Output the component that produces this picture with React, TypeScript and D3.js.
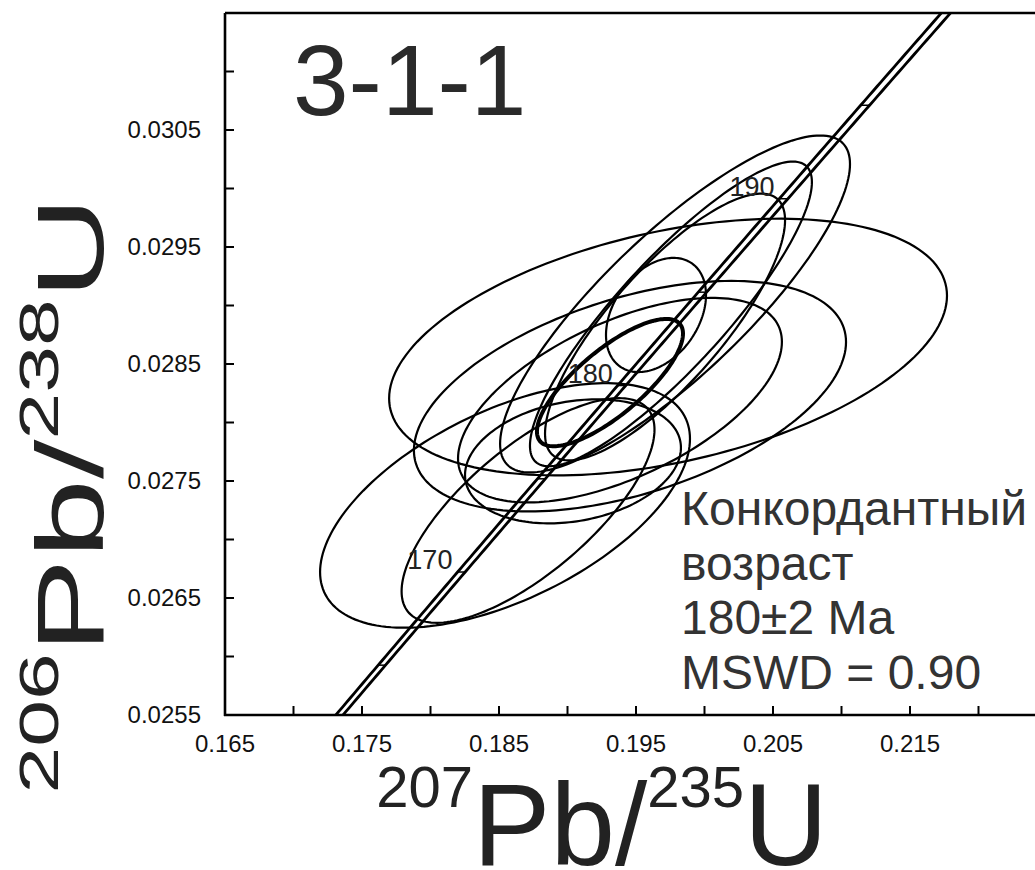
import React from "react";
import * as d3 from "d3";

const WIDTH = 1035;
const HEIGHT = 870;

// U–Pb analyses: 207Pb/235U, its 2σ error, 206Pb/238U, its 2σ error, error correlation
const ratio75 = [0.19734, 0.19456, 0.19383, 0.19785, 0.19755, 0.19712, 0.19646, 0.18544, 0.18712, 0.1904];
const err75 = [0.02036, 0.01577, 0.01182, 0.01277, 0.01029, 0.00876, 0.00365, 0.0135, 0.00923, 0.00788];
const ratio68 = [0.028645, 0.028225, 0.028191, 0.029013, 0.028928, 0.028816, 0.028919, 0.027291, 0.027248, 0.027668];
const err68 = [0.001097, 0.000985, 0.000874, 0.00144, 0.001302, 0.00114, 0.000488, 0.001045, 0.00096, 0.00053];
const rho = [0.4, 0.47, 0.57, 0.83, 0.865, 0.8, 0.35, 0.545, 0.72, 0.22];

// Concordia age ellipse (bold)
const ageRatio75 = [0.1931];
const ageErr75 = [0.00533];
const ageRatio68 = [0.028341];
const ageErr68 = [0.000544];
const ageRho = [0.77];

// Concordia age markers (Ma)
const markerAges = [165, 170, 175, 180, 185, 190, 195, 200];
const labelledAges = [170, 180, 190];

// Axes
const xTickValues = [0.165, 0.17, 0.175, 0.18, 0.185, 0.19, 0.195, 0.2, 0.205, 0.21, 0.215, 0.22];
const xTickLabels = ["0.165", "0.175", "0.185", "0.195", "0.205", "0.215"];
const yTickLabels = ["0.0255", "0.0265", "0.0275", "0.0285", "0.0295", "0.0305"];
const yTickValues = [0.0255, 0.026, 0.0265, 0.027, 0.0275, 0.028, 0.0285, 0.029, 0.0295, 0.03, 0.0305, 0.031];

const resultLines = ["Конкордантный", "возраст", "180±2 Ma", "MSWD = 0.90"];

const LAMBDA238 = 1.55125e-10;
const LAMBDA235 = 9.8485e-10;
const LAMBDA_REL_ERR = 0.0014;

const FONT = "'Liberation Sans', Arial, Helvetica, sans-serif";

const x = d3.scaleLinear().domain([0.165, 0.225]).range([225, 1047]);
const y = d3.scaleLinear().domain([0.0255, 0.0315]).range([715, 13]);

const conc68 = (t: number) => Math.exp(LAMBDA238 * t * 1e6) - 1;
const conc75 = (t: number, k: number) => Math.exp(LAMBDA235 * (1 + k) * t * 1e6) - 1;

function ellipsePath(cx: number, ex: number, cy: number, ey: number, r: number) {
  const s = Math.sqrt(1 - r * r);
  const pts: [number, number][] = d3.range(0, 360, 2).map((deg) => {
    const a = (deg * Math.PI) / 180;
    const vx = cx + ex * Math.cos(a);
    const vy = cy + ey * (r * Math.cos(a) + s * Math.sin(a));
    return [x(vx), y(vy)];
  });
  return d3.line().curve(d3.curveLinearClosed)(pts) || "";
}

export default function App() {
  const ages = d3.range(150, 215.01, 0.25);
  const line = d3.line();
  const concPaths = [-LAMBDA_REL_ERR, LAMBDA_REL_ERR].map(
    (k) => line(ages.map((t) => [x(conc75(t, k)), y(conc68(t))] as [number, number])) || ""
  );

  return (
    <svg
      width={WIDTH}
      height={HEIGHT}
      style={{ position: "absolute", left: 0, top: 0, background: "#fff" }}
      fontFamily={FONT}
    >
      <defs>
        <clipPath id="plotArea">
          <rect x={225} y={13} width={822} height={702} />
        </clipPath>
      </defs>
      <rect width={WIDTH} height={HEIGHT} fill="#fff" />

      <g clipPath="url(#plotArea)" fill="none" stroke="#000">
        {ratio75.map((v, i) => (
          <path key={i} d={ellipsePath(v, err75[i], ratio68[i], err68[i], rho[i])} strokeWidth={2.2} />
        ))}
        {ageRatio75.map((v, i) => (
          <path
            key={"a" + i}
            d={ellipsePath(v, ageErr75[i], ageRatio68[i], ageErr68[i], ageRho[i])}
            strokeWidth={4}
          />
        ))}
        {concPaths.map((d, i) => (
          <path key={"c" + i} d={d} strokeWidth={2.8} />
        ))}
        {markerAges.map((t) => (
          <line
            key={"m" + t}
            x1={x(conc75(t, -LAMBDA_REL_ERR))}
            x2={x(conc75(t, LAMBDA_REL_ERR))}
            y1={y(conc68(t))}
            y2={y(conc68(t))}
            strokeWidth={1.5}
          />
        ))}
      </g>

      {labelledAges.map((t) => (
        <text
          key={"l" + t}
          x={x(conc75(t, 0)) - 9}
          y={y(conc68(t)) - 3}
          textAnchor="end"
          fontSize={27}
          fill="#222"
        >
          {t}
        </text>
      ))}

      {/* frame */}
      <g stroke="#000" strokeWidth={2.6} fill="none">
        <line x1={225} y1={13} x2={1047} y2={13} />
        <line x1={225} y1={13} x2={225} y2={716} />
        <line x1={224} y1={715} x2={1047} y2={715} />
        <line x1={1047} y1={13} x2={1047} y2={715} />
      </g>

      {/* ticks */}
      <g stroke="#000" strokeWidth={2}>
        {xTickValues.map((v) => (
          <line key={"xt" + v} x1={x(v)} x2={x(v)} y1={715} y2={706} />
        ))}
        {yTickValues.map((v) => (
          <line key={"yt" + v} x1={225} x2={234} y1={y(v)} y2={y(v)} />
        ))}
      </g>

      <g fontSize={24} fill="#111">
        {xTickLabels.map((s) => (
          <text key={"xl" + s} x={x(+s)} y={752} textAnchor="middle">
            {s}
          </text>
        ))}
        {yTickLabels.map((s) => (
          <text key={"yl" + s} x={201} y={y(+s)} dy="0.35em" textAnchor="end">
            {s}
          </text>
        ))}
      </g>

      <text x={293} y={115} fontSize={100} fill="#2a2a2a">
        3-1-1
      </text>

      <g fontSize={48} fill="#333">
        {resultLines.map((s, i) => (
          <text key={"r" + i} x={681} y={525 + i * 54.5}>
            {s}
          </text>
        ))}
      </g>

      {/* x-axis title */}
      <text x={602} y={865} textAnchor="middle" fill="#222" fontSize={116}>
        <tspan fontSize={58} dy={-58}>207</tspan>
        <tspan dy={58}>Pb/</tspan>
        <tspan fontSize={58} dy={-58}>235</tspan>
        <tspan dy={58}>U</tspan>
      </text>

      {/* y-axis title */}
      <text
        transform="translate(103,495) rotate(-90) scale(1.5,1)"
        textAnchor="middle"
        fill="#222"
        fontSize={95}
      >
        <tspan fontSize={56} dy={-45}>206</tspan>
        <tspan dy={45}>Pb/</tspan>
        <tspan fontSize={56} dy={-45}>238</tspan>
        <tspan dy={45}>U</tspan>
      </text>
    </svg>
  );
}
